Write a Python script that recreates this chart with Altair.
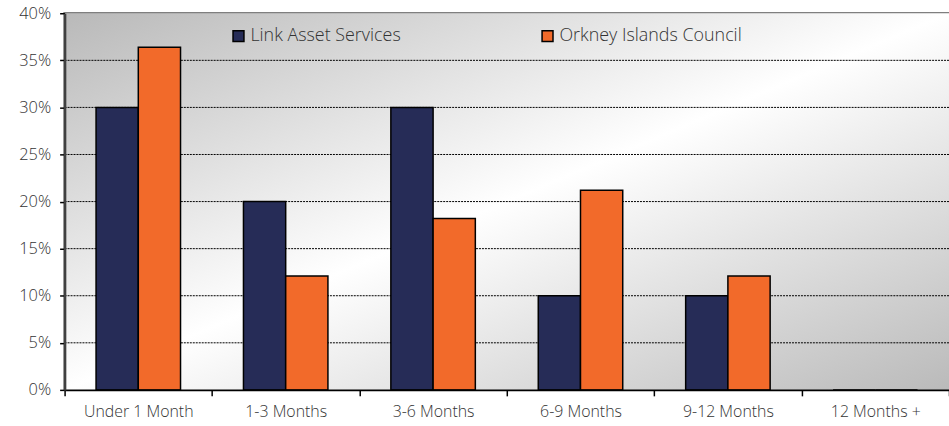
import altair as alt
import pandas as pd

categories = ["Under 1 Month", "1-3 Months", "3-6 Months", "6-9 Months", "9-12 Months", "12 Months +"]
link = [30, 20, 30, 10, 10, 0]
orkney = [36.4, 12.1, 18.2, 21.2, 12.1, 0]
series = ["Link Asset Services", "Orkney Islands Council"]
colors = ["#262c57", "#f26a2a"]
y_ticks = [0, 5, 10, 15, 20, 25, 30, 35, 40]
grid_vals = [5, 10, 15, 20, 25, 30, 35]

W, H = 890, 379
FONT = "Open Sans"
TXT = "#333333"

rows = []
for c, a, b in zip(categories, link, orkney):
    rows.append({"cat": c, "series": series[0], "value": a})
    rows.append({"cat": c, "series": series[1], "value": b})
df = pd.DataFrame(rows)

yscale = alt.Scale(domain=[0, 40], nice=False)
yaxis = alt.Axis(
    title=None, values=y_ticks, labelExpr="datum.value + '%'", tickSize=5,
    tickColor="black", tickWidth=1.5, domainColor="#404040", domainWidth=2.5,
    labelFont=FONT, labelFontSize=16.5, labelFontWeight=300, labelColor=TXT,
    labelPadding=9, zindex=1, grid=False,
)

grad = alt.Gradient(
    gradient="linear",
    stops=[
        alt.GradientStop(color="#b9b9b9", offset=0),
        alt.GradientStop(color="#ffffff", offset=0.5),
        alt.GradientStop(color="#bababa", offset=1),
    ],
    x1=0, y1=0, x2=1, y2=1,
)

bg = alt.Chart(pd.DataFrame({"k": [0]})).mark_rect(color=grad, strokeWidth=0).encode(
    x=alt.value(0), x2=alt.value(W), y=alt.value(0), y2=alt.value(H)
)

grid = alt.Chart(pd.DataFrame({"value": grid_vals})).mark_rule(
    color="black", strokeDash=[2, 1], strokeWidth=1
).encode(y=alt.Y("value:Q", scale=yscale, axis=yaxis))

bars = alt.Chart(df).mark_bar(stroke="black", strokeWidth=1.5, opacity=1).encode(
    x=alt.X(
        "cat:N", sort=categories,
        scale=alt.Scale(paddingInner=0, paddingOuter=0),
        axis=alt.Axis(
            title=None, labelAngle=0, tickBand="extent", tickSize=6, tickColor="black",
            tickWidth=1.5, domainColor="black", domainWidth=2, labelFont=FONT,
            labelFontSize=16, labelFontWeight=300, labelColor=TXT, labelPadding=8,
            zindex=1, grid=False,
        ),
    ),
    xOffset=alt.XOffset("series:N", sort=series, scale=alt.Scale(paddingOuter=0.745, paddingInner=0)),
    y=alt.Y("value:Q", scale=yscale, axis=yaxis),
    color=alt.Color(
        "series:N",
        scale=alt.Scale(domain=series, range=colors),
        legend=alt.Legend(
            title=None, orient="none", legendX=166, legendY=14, direction="horizontal",
            symbolType="square", symbolSize=121, symbolStrokeColor="black",
            symbolStrokeWidth=1.5, symbolOpacity=1, labelFont=FONT, labelFontSize=18,
            labelFontWeight=300, labelColor=TXT, columnPadding=138, labelOffset=3,
            labelLimit=400,
        ),
    ),
)

chart = alt.layer(bg, grid, bars).properties(
    width=W, height=H,
    autosize=alt.AutoSizeParams(type="none"),
    padding={"left": 65, "top": 12, "right": 0, "bottom": 35},
).configure_view(stroke="#7f7f7f", strokeWidth=2.5)

chart.save("out.html", embed_options={"renderer": "svg", "actions": False})
